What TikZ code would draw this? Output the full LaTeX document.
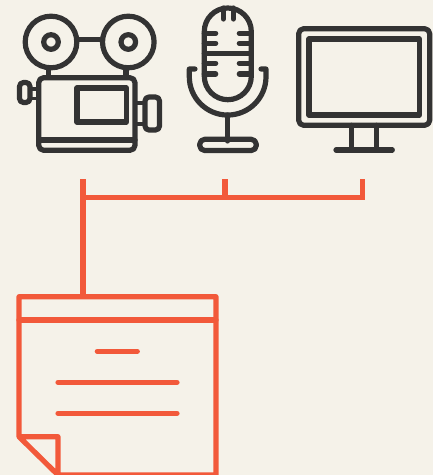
\documentclass[tikz,border=0pt]{standalone}
\usepackage{tikz}
\definecolor{paper}{HTML}{F5F2E9}
\definecolor{ink}{HTML}{333333}
\definecolor{signal}{HTML}{F2593A}

\begin{document}
\begin{tikzpicture}[
  x=0.75pt, y=-0.75pt,
  icon/.style={draw=ink, line width=3.9pt, line cap=round, line join=round},
  thin icon/.style={draw=ink, line width=2.6pt},
  wire/.style={draw=signal, line width=3.9pt},
  sheet/.style={draw=signal, line width=3.9pt, line cap=round, line join=round}
]
\useasboundingbox (0,0) rectangle (433,475);
\fill[paper] (0,0) rectangle (433,475);

% camera
\draw[icon] (51,42) circle (25.8);
\draw[icon] (51,42) circle (7.3);
\draw[icon] (128.3,42) circle (25.8);
\draw[icon] (128.3,42) circle (7.3);
\draw[icon] (79,39.3) -- (100,39.3);
\draw[icon] (48.3,70) -- (48.3,77);
\draw[icon] (126,70) -- (126,77);
\draw[icon, rounded corners=3.75pt] (38.7,77.7) rectangle (135,150.3);
\draw[icon] (38.7,140) -- (135,140);
\draw[icon] (77,88) rectangle (126.3,122);
\draw[icon, rounded corners=3pt] (19.5,82.5) rectangle (30,102.5);
\draw[thin icon] (30,89) -- (38,89) (30,98.5) -- (38,98.5);
\draw[icon, rounded corners=3pt] (145,97) rectangle (159.5,130);
\draw[thin icon] (136,103) -- (145,103) (136,124) -- (145,124);

% microphone
\draw[icon] (204.3,31.5) arc (180:360:23.5) -- (251.3,76.2) arc (0:180:23.5) -- cycle;
\draw[icon] (204.3,53.3) -- (251.3,53.3);
\foreach \y in {33.3,43.3,63.3,74} {
  \draw[icon] (204.3,\y) -- (215.7,\y);
  \draw[icon] (239.3,\y) -- (251.3,\y);
}
\draw[icon] (223.3,8) -- (223.3,19);
\draw[icon] (233.3,8) -- (233.3,19);
\draw[icon] (195,69) -- (189.3,69) -- (189.3,76.7) arc (180:0:38.35) -- (266,69) -- (261,69);
\draw[icon] (227.7,115) -- (227.7,141);
\draw[icon, rounded corners=3.75pt] (199.7,139.3) rectangle (256.3,150.5);

% monitor
\draw[icon, rounded corners=3.75pt] (298.7,28.7) rectangle (429.7,125.3);
\draw[icon] (309,39) rectangle (419.3,115);
\draw[icon] (351.7,125.3) -- (351.7,150);
\draw[icon] (376.7,125.3) -- (376.7,150);
\draw[icon] (336,150) -- (392.3,150);

% connectors
\coordinate (cam) at (83,179);
\coordinate (mic) at (225,179);
\coordinate (mon) at (362.7,179);
\coordinate (busl) at (83,197.7);
\coordinate (busm) at (225,197.7);
\coordinate (busr) at (362.7,197.7);
\coordinate (top) at (83,296.7);
\draw[wire] (cam) -- (top);
\draw[wire] (mic) -- (busm);
\draw[wire] (mon) -- (busr) -- (busl);

% note
\draw[sheet] (58,475) -- (216,475) -- (216,296.7) -- (19,296.7) -- (19,436.7) -- (58,475) -- (58,436.7) -- (19,436.7);
\draw[sheet] (19,320) -- (216,320);
\draw[sheet] (97.3,351.3) -- (137.3,351.3);
\draw[sheet] (58,382.3) -- (177,382.3);
\draw[sheet] (58,413.3) -- (177,413.3);

\end{tikzpicture}
\end{document}
